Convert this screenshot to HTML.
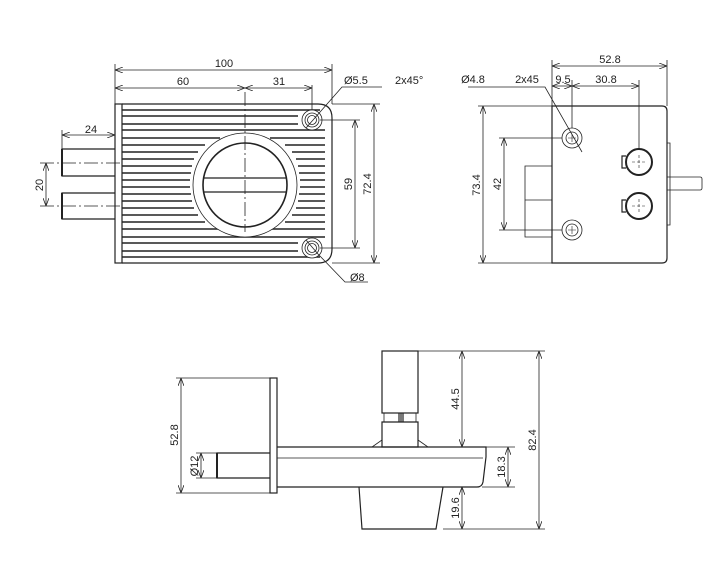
<!DOCTYPE html>
<html><head><meta charset="utf-8"><style>
html,body{margin:0;padding:0;background:#fff;}
svg{display:block;}
text{font-family:"Liberation Sans",sans-serif;font-size:11px;fill:#222;}
</style></head><body>
<svg width="721" height="574" viewBox="0 0 721 574" xmlns="http://www.w3.org/2000/svg">
<defs>
<marker id="a" markerWidth="8" markerHeight="6" refX="8" refY="3" orient="auto-start-reverse" markerUnits="userSpaceOnUse"><path d="M0,0 L8,3 L0,6" fill="none" stroke="#222" stroke-width="0.8"/></marker>
</defs>
<g stroke="#222" stroke-width="0.8" fill="none">
<!-- FRONT VIEW -->
<rect x="115" y="104" width="7" height="159" stroke-width="1.2"/>
<path d="M122,104 H318 Q332,104 332,118 V249 Q332,263 318,263 H122" stroke-width="1.2"/>
<g stroke-width="1.4">
<path d="M122,110H320 M122,116H298 M122,124H298 M122,130H325 M122,138H220 M270,138H325 M122,145H205 M285,145H325 M122,152H198 M292,152H325 M122,159H194 M296,159H325 M122,166H192 M298,166H325 M122,173H191 M299,173H325 M122,180H190 M300,180H325 M122,187H190 M300,187H325 M122,194H191 M299,194H325 M122,201H192 M298,201H325 M122,208H194 M296,208H325 M122,215H198 M292,215H325 M122,222H205 M285,222H325 M122,229H220 M270,229H325 M122,237H325 M122,243H298 M122,251H298 M122,257H320"/>
</g>
<circle cx="245" cy="185" r="52" stroke="none" fill="#fff"/>
<circle cx="245" cy="185" r="52"/>
<circle cx="245" cy="185" r="42" stroke-width="1.6"/>
<path d="M204,178H286 M204,192H286" stroke-width="1.2"/>
<path d="M245,92V232" stroke-dasharray="14,3,2,3"/>
<circle cx="312" cy="120" r="10" fill="#fff"/><circle cx="312" cy="120" r="7"/><circle cx="312" cy="120" r="4.5"/>
<circle cx="312" cy="248" r="10" fill="#fff"/><circle cx="312" cy="248" r="7"/><circle cx="312" cy="248" r="4.5"/>
<path d="M306,128 L342,87 H382"/>
<path d="M306,240 L318,254 L345,282 H368"/>
<path d="M115,149H62V176H115 M115,193H62V219H115" stroke-width="1.2"/>
<path d="M62,149V176 M62,193V219" stroke-width="2"/>
<path d="M40,163H120 M40,206H120" stroke-dasharray="14,3,2,3"/>
<path d="M115,104V64 M332,104V64 M312,110V85"/>
<path d="M115,70H332" marker-start="url(#a)" marker-end="url(#a)"/>
<path d="M115,88H245" marker-start="url(#a)" marker-end="url(#a)"/>
<path d="M245,88H312" marker-start="url(#a)" marker-end="url(#a)"/>
<path d="M62,149V130"/>
<path d="M62,135H115" marker-start="url(#a)" marker-end="url(#a)"/>
<path d="M46,163V206" marker-start="url(#a)" marker-end="url(#a)"/>
<path d="M320,120H360 M320,248H360 M332,104H380 M332,263H380"/>
<path d="M355,120V248" marker-start="url(#a)" marker-end="url(#a)"/>
<path d="M374,104V263" marker-start="url(#a)" marker-end="url(#a)"/>

<!-- SIDE VIEW -->
<path d="M552,106H662Q667,106 667,111V258Q667,263 662,263H552Z" stroke-width="1.2"/>
<path d="M667,143H670V225H667"/>
<path d="M667,177H700Q702,177 702,179V188Q702,190 700,190H667"/>
<path d="M552,166H525V237H552 M525,200H552"/>
<circle cx="572" cy="138" r="10"/><circle cx="572" cy="138" r="6"/>
<circle cx="572" cy="230" r="10"/><circle cx="572" cy="230" r="6"/>
<path d="M568,138h8M572,134v8M568,230h8M572,226v8" stroke-width="0.6"/>
<circle cx="639" cy="162" r="13" stroke-width="2"/>
<circle cx="639" cy="206" r="13" stroke-width="2"/>
<path d="M626,156h-4v12h4 M626,200h-4v12h4" stroke-width="1.2"/>
<path d="M632,162h14M639,155v14M632,206h14M639,199v14" stroke-dasharray="3,2" stroke-width="0.6"/>
<path d="M552,106V60 M667,106V60 M572,128V80 M639,149V80"/>
<path d="M552,66H667" marker-start="url(#a)" marker-end="url(#a)"/>
<path d="M552,86H572" marker-start="url(#a)" marker-end="url(#a)"/>
<path d="M572,86H639" marker-start="url(#a)" marker-end="url(#a)"/>
<path d="M468,87H545 L582,152"/>
<path d="M478,106H552 M478,263H552 M499,138H562 M499,230H562"/>
<path d="M483,106V263" marker-start="url(#a)" marker-end="url(#a)"/>
<path d="M504,138V230" marker-start="url(#a)" marker-end="url(#a)"/>

<!-- BOTTOM VIEW -->
<rect x="270" y="378" width="7" height="115" stroke-width="1.2"/>
<path d="M277,447H486V457L483,482Q482,487 477,487H277" stroke-width="1.2"/>
<path d="M277,458H483"/>
<path d="M270,453H217V478H270" stroke-width="1.2"/>
<path d="M217,453V478" stroke-width="2"/>
<rect x="382" y="351" width="36" height="62" stroke-width="1.2"/>
<rect x="384" y="413" width="32" height="9"/>
<path d="M399,413v9M401,413v9M403,413v9" stroke-width="1.2"/>
<path d="M382,422H418V447H382Z" stroke-width="1.2"/>
<path d="M382,440L372,447H382 M418,440L428,447H418"/>
<path d="M359,487L362,529H436L443,487" stroke-width="1.2"/>
<path d="M176,378H270 M176,493H270 M196,453H217 M196,478H217"/>
<path d="M181,378V493" marker-start="url(#a)" marker-end="url(#a)"/>
<path d="M201,453V478" marker-start="url(#a)" marker-end="url(#a)"/>
<path d="M418,351H545 M418,447H470 M486,447H515 M482,487H515 M443,529H545"/>
<path d="M462,351V447" marker-start="url(#a)" marker-end="url(#a)"/>
<path d="M539,351V529" marker-start="url(#a)" marker-end="url(#a)"/>
<path d="M508,447V487" marker-start="url(#a)" marker-end="url(#a)"/>
<path d="M462,487V529" marker-start="url(#a)" marker-end="url(#a)"/>
</g>
<g>
<text x="224" y="67" text-anchor="middle">100</text>
<text x="183" y="85" text-anchor="middle">60</text>
<text x="279" y="85" text-anchor="middle">31</text>
<text x="91" y="133" text-anchor="middle">24</text>
<text x="344" y="84">Ø5.5</text>
<text x="395" y="84">2x45°</text>
<text x="350" y="281">Ø8</text>
<text transform="translate(43,185) rotate(-90)" text-anchor="middle">20</text>
<text transform="translate(352,184) rotate(-90)" text-anchor="middle">59</text>
<text transform="translate(371,184) rotate(-90)" text-anchor="middle">72.4</text>
<text x="610" y="63" text-anchor="middle">52.8</text>
<text x="563" y="83" text-anchor="middle">9.5</text>
<text x="606" y="83" text-anchor="middle">30.8</text>
<text x="473" y="83" text-anchor="middle">Ø4.8</text>
<text x="527" y="83" text-anchor="middle">2x45</text>
<text transform="translate(480,185) rotate(-90)" text-anchor="middle">73.4</text>
<text transform="translate(501,184) rotate(-90)" text-anchor="middle">42</text>
<text transform="translate(178,435) rotate(-90)" text-anchor="middle">52.8</text>
<text transform="translate(198,466) rotate(-90)" text-anchor="middle">Ø12</text>
<text transform="translate(459,399) rotate(-90)" text-anchor="middle">44.5</text>
<text transform="translate(536,440) rotate(-90)" text-anchor="middle">82.4</text>
<text transform="translate(505,467) rotate(-90)" text-anchor="middle">18.3</text>
<text transform="translate(459,508) rotate(-90)" text-anchor="middle">19.6</text>
</g>
</svg>
</body></html>
